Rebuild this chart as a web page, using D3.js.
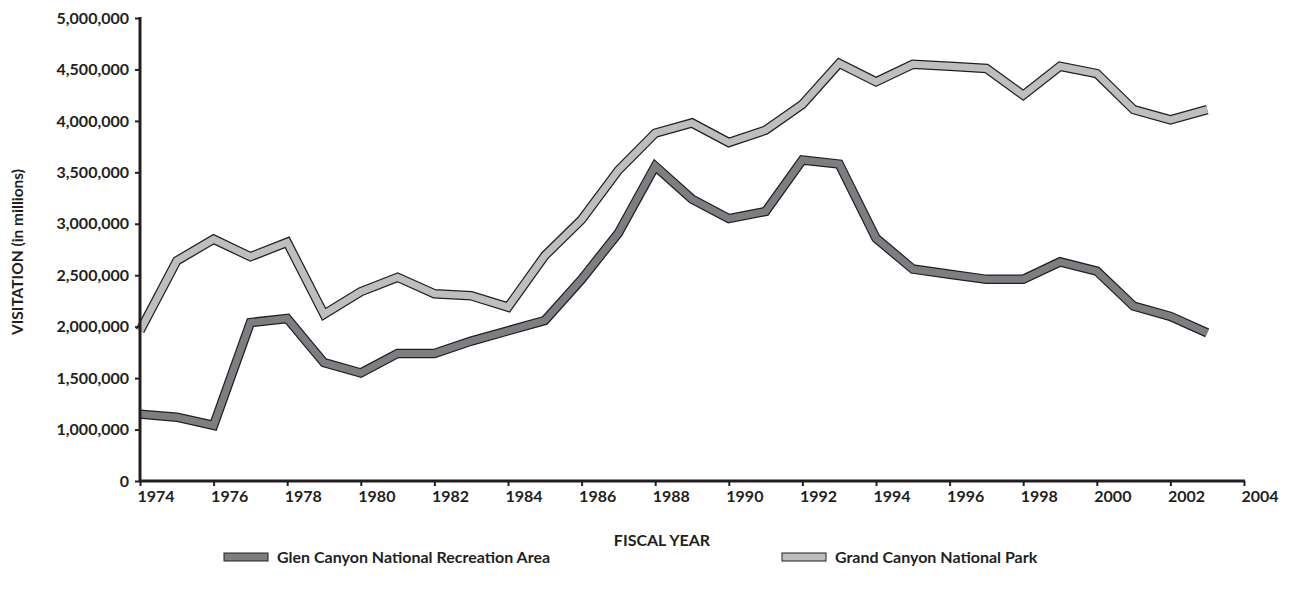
<!DOCTYPE html>
<html>
<head>
<meta charset="utf-8">
<script src="https://cdn.jsdelivr.net/npm/d3@7"></script>
<style>
  body { margin: 0; background: #fff; }
  text { font-family: Lato, "Open Sans", sans-serif; font-weight: 700; fill: #231f20; }
</style>
</head>
<body>
<div id="chart"></div>
<script>
// Data
const years = d3.range(1974, 2004);

const glenCanyon = [
    1150000, 1120000, 1040000, 2040000, 2080000, 1650000, 1550000, 1740000, 1740000, 1860000,
    1960000, 2060000, 2460000, 2910000, 3560000, 3240000, 3050000, 3120000, 3620000, 3580000,
    2860000, 2560000, 2510000, 2460000, 2460000, 2630000, 2540000, 2200000, 2100000, 1940000
];

const grandCanyon = [
    1960000, 2640000, 2850000, 2680000, 2820000, 2120000, 2340000, 2480000, 2320000, 2300000,
    2190000, 2690000, 3040000, 3520000, 3880000, 3980000, 3790000, 3910000, 4160000, 4560000,
    4380000, 4550000, 4530000, 4510000, 4250000, 4530000, 4460000, 4110000, 4010000, 4110000
];

const yTicks = [0, 1000000, 1500000, 2000000, 2500000, 3000000, 3500000, 4000000, 4500000, 5000000];
const xTicks = d3.range(1974, 2005, 2);

const series = [
    { name: "Glen Canyon National Recreation Area", values: glenCanyon, color: "#7d7e81" },
    { name: "Grand Canyon National Park", values: grandCanyon, color: "#bcbec0" }
];

// Dimensions
const width = 1293;
const height = 592;
const plotLeft = 140, plotRight = 1244, plotTop = 18, plotBottom = 481;

const svg = d3.select("#chart")
    .append("svg")
    .attr("width", width)
    .attr("height", height);

// Scales (the 0 - 1,000,000 gap is squeezed to one step, like the original)
const x = d3.scaleLinear().domain([1974, 2004]).range([plotLeft, plotRight]);
const step = (plotBottom - plotTop) / 9;
const y = d3.scaleLinear().domain([0, 1000000, 5000000]).range([plotBottom, plotBottom - step, plotTop]);

// Lines: dark outline underneath, grey band on top
const line = d3.line()
    .x((d, i) => x(years[i]))
    .y(d => y(d));

series.forEach(s => {
    svg.append("path")
        .attr("d", line(s.values))
        .attr("fill", "none")
        .attr("stroke", "#231f20")
        .attr("stroke-width", 9.5)
        .attr("stroke-linejoin", "miter")
        .attr("stroke-miterlimit", 10);
    svg.append("path")
        .attr("d", line(s.values))
        .attr("fill", "none")
        .attr("stroke", s.color)
        .attr("stroke-width", 7)
        .attr("stroke-linejoin", "miter")
        .attr("stroke-miterlimit", 10);
});

// Y axis
const yAxis = svg.append("g")
    .attr("transform", `translate(${plotLeft},0)`)
    .call(d3.axisLeft(y).tickValues(yTicks).tickFormat(d3.format(",")).tickSize(5).tickPadding(6));
yAxis.select(".domain").attr("stroke", "#231f20").attr("stroke-width", 3)
    .attr("d", `M0,${plotTop - 1}V${plotBottom + 1}`);
yAxis.selectAll(".tick line").attr("stroke", "#231f20").attr("stroke-width", 2);
yAxis.selectAll(".tick text").style("font-size", "16px");

// X axis
const xAxis = svg.append("g")
    .attr("transform", `translate(0,${plotBottom})`)
    .call(d3.axisBottom(x).tickValues(xTicks).tickFormat(d3.format("d")).tickSize(5).tickPadding(5));
xAxis.select(".domain").attr("stroke", "#231f20").attr("stroke-width", 3)
    .attr("d", `M${plotLeft - 1},0H${plotRight + 1}`);
xAxis.selectAll(".tick line").attr("stroke", "#231f20").attr("stroke-width", 2);
xAxis.selectAll(".tick text")
    .style("font-size", "16px")
    .attr("text-anchor", "start")
    .attr("x", -3);

// Axis titles
svg.append("text")
    .attr("x", 662)
    .attr("y", 546)
    .attr("text-anchor", "middle")
    .style("font-size", "16px")
    .text("FISCAL YEAR");

svg.append("text")
    .attr("transform", `translate(23,252) rotate(-90)`)
    .attr("text-anchor", "middle")
    .style("font-size", "15.5px")
    .text("VISITATION (in millions)");

// Legend
const legendX = [224, 782];
series.forEach((s, i) => {
    const g = svg.append("g").attr("transform", `translate(${legendX[i]},557)`);
    g.append("rect")
        .attr("x", 0).attr("y", -4)
        .attr("width", 44).attr("height", 8)
        .attr("fill", s.color)
        .attr("stroke", "#231f20")
        .attr("stroke-width", 1);
    g.append("text")
        .attr("x", 53).attr("y", 6)
        .style("font-size", "16px")
        .text(s.name);
});
</script>
</body>
</html>
